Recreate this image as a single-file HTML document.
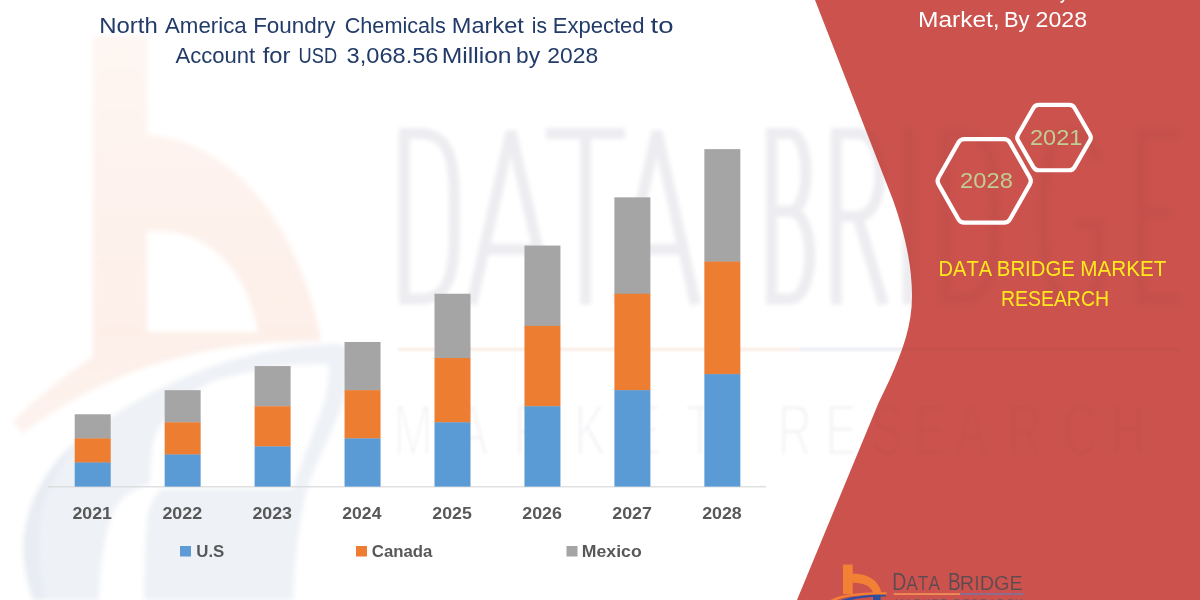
<!DOCTYPE html>
<html>
<head>
<meta charset="utf-8">
<title>North America Foundry Chemicals Market</title>
<style>
  html, body { margin: 0; padding: 0; background: #ffffff; }
  body { width: 1200px; height: 600px; overflow: hidden; position: relative; font-family: "Liberation Sans", sans-serif; }
  svg { position: absolute; left: 0; top: 0; display: block; font-kerning: none; }
</style>
</head>
<body>
<svg width="1200" height="600" viewBox="0 0 1200 600">
  <defs>
    <filter id="b3" x="-10%" y="-10%" width="120%" height="120%"><feGaussianBlur stdDeviation="2.5"/></filter>
    <filter id="b25" x="-10%" y="-10%" width="120%" height="120%"><feGaussianBlur stdDeviation="2.2"/></filter>
    <filter id="b2" x="-10%" y="-10%" width="120%" height="120%"><feGaussianBlur stdDeviation="1.6"/></filter>
    <filter id="b1" x="-10%" y="-10%" width="120%" height="120%"><feGaussianBlur stdDeviation="1.0"/></filter>
    <linearGradient id="og" x1="0" y1="36" x2="0" y2="430" gradientUnits="userSpaceOnUse"><stop offset="0" stop-color="#fef6f2"/><stop offset="0.75" stop-color="#fdefe8"/><stop offset="1" stop-color="#fdf3ee"/></linearGradient>
    <filter id="soft" x="-5%" y="-5%" width="110%" height="110%"><feGaussianBlur stdDeviation="0.4"/></filter>
  </defs>
  <rect x="0" y="0" width="1200" height="600" fill="#ffffff"/>
  <g id="wm">
  <g filter="url(#b3)">
    <!-- blue-grey ring region -->
    <path d="M33 600 C24 575 20 545 27 520 C32 500 38 488 47 474 C65 447 90 430 117 413 C150 392 180 378 210 367 C250 353 290 346 333 344 C342 344 350 346 350 352 C350 372 348 386 343 402 C336 424 322 450 310 480 C300 510 295 555 293 600 Z" fill="#eef1f6"/>
    <!-- darker outer crescent -->
    <path d="M33 600 C24 575 20 545 27 520 C32 500 38 488 47 474 C58 458 70 446 84 436 C66 455 50 480 42 510 C36 540 38 570 46 600 Z" fill="#e8ecf3"/>
    <!-- white interior above axis -->
    <path d="M150 489 C150 470 151 455 153 442 C158 425 170 410 185 400 C195 392 204 385 213 381 C240 373 268 368 293 365 L328 364 C330 380 326 400 318 420 C310 442 300 465 293 489 Z" fill="#ffffff"/>
    <!-- white leaf gap -->
    <path d="M99 600 C100 560 106 530 114 510 C124 494 138 487 150 484 L162 489 C152 498 148 508 147 520 C145 550 144 575 144 600 Z" fill="#ffffff"/>
    <!-- orange b + swoosh -->
    <path fill-rule="evenodd" d="M93 36 L147 36 L147 135 C215 138 292 200 320 335 L320 341 C240 341 130 352 22 434 L13 421 C40 395 68 373 93 357 Z M147 232 C200 226 246 262 258 332 L147 332 Z" fill="url(#og)"/>
  </g>
  <g filter="url(#b25)" fill="none" stroke="#ededf1" stroke-width="11" stroke-linejoin="miter" stroke-linecap="butt">
    <path d="M404.5 133.5 H419.5 C454.5 133.5 454.5 169.9 454.5 216.2 C454.5 262.6 454.5 299.0 419.5 299.0 H404.5 Z"/>
    <path d="M471.5 304.5 L511.0 131.5 L550.5 304.5 M485.7 249.3 H536.3"/>
    <path d="M546.0 133.5 H625.0 M585.5 133.5 V304.5"/>
    <path d="M618.5 304.5 L657.0 131.5 L695.5 304.5 M632.4 249.3 H681.6"/>
    <path d="M771.5 133.5 H789.5 C811.5 133.5 811.5 211.3 789.5 211.3 H771.5 M789.5 211.3 C816.5 211.3 816.5 299.0 789.5 299.0 H766.0 M771.5 128.0 V304.5"/>
    <path d="M836.5 304.5 V133.5 H857.6 C887.5 133.5 887.5 216.2 857.6 216.2 H836.5 M857.6 216.2 L883.5 304.5"/>
    <path d="M908.2 128.0 V304.5"/>
    <path d="M945.5 133.5 H960.2 C994.5 133.5 994.5 169.9 994.5 216.2 C994.5 262.6 994.5 299.0 960.2 299.0 H945.5 Z"/>
    <path d="M1096.5 160.0 C1091.9 140.1 1083.1 133.5 1071.0 133.5 C1050.1 133.5 1043.5 166.6 1043.5 216.2 C1043.5 265.9 1050.1 299.0 1071.0 299.0 C1084.8 299.0 1098.5 290.7 1098.5 279.1 V224.2 H1075.0"/>
    <path d="M1180.0 133.5 H1141.5 V299.0 H1180.0 M1141.5 212.2 H1170.5"/>
  </g>
  <g filter="url(#b1)">
    <rect x="398" y="347.5" width="401" height="3.5" fill="#fbeee6"/>
    <rect x="799" y="347.5" width="380" height="3.5" fill="#eceef5"/>
  </g>
  <g filter="url(#b2)" fill="#f3f3f6" stroke="#ffffff" stroke-width="2.5">
    <text transform="translate(413 455) scale(0.66 1)" font-size="72" text-anchor="middle">M</text>
    <text transform="translate(472 455) scale(0.66 1)" font-size="72" text-anchor="middle">A</text>
    <text transform="translate(531 455) scale(0.66 1)" font-size="72" text-anchor="middle">R</text>
    <text transform="translate(590 455) scale(0.66 1)" font-size="72" text-anchor="middle">K</text>
    <text transform="translate(645 455) scale(0.66 1)" font-size="72" text-anchor="middle">E</text>
    <text transform="translate(700 455) scale(0.66 1)" font-size="72" text-anchor="middle">T</text>
    <text transform="translate(795 455) scale(0.66 1)" font-size="72" text-anchor="middle">R</text>
    <text transform="translate(841 455) scale(0.66 1)" font-size="72" text-anchor="middle">E</text>
    <text transform="translate(887 455) scale(0.66 1)" font-size="72" text-anchor="middle">S</text>
    <text transform="translate(930 455) scale(0.66 1)" font-size="72" text-anchor="middle">E</text>
    <text transform="translate(971 455) scale(0.66 1)" font-size="72" text-anchor="middle">A</text>
    <text transform="translate(1025 455) scale(0.66 1)" font-size="72" text-anchor="middle">R</text>
    <text transform="translate(1080 455) scale(0.66 1)" font-size="72" text-anchor="middle">C</text>
    <text transform="translate(1128 455) scale(0.66 1)" font-size="72" text-anchor="middle">H</text>
  </g>
  </g>
  <clipPath id="redclip"><path d="M815 0 L893 200 C903 228 912 262 912 296 C912 325 903 350 889.5 380 L878.5 403 L797 600 L1200 600 L1200 0 Z"/></clipPath>
  <path id="red" d="M815 0 L893 200 C903 228 912 262 912 296 C912 325 903 350 889.5 380 L878.5 403 L797 600 L1200 600 L1200 0 Z" fill="#cb524d"/>
  <g clip-path="url(#redclip)" style="mix-blend-mode:multiply" opacity="0.4">
  <g>
  <g filter="url(#b3)">
    <!-- blue-grey ring region -->
    <path d="M33 600 C24 575 20 545 27 520 C32 500 38 488 47 474 C65 447 90 430 117 413 C150 392 180 378 210 367 C250 353 290 346 333 344 C342 344 350 346 350 352 C350 372 348 386 343 402 C336 424 322 450 310 480 C300 510 295 555 293 600 Z" fill="#eef1f6"/>
    <!-- darker outer crescent -->
    <path d="M33 600 C24 575 20 545 27 520 C32 500 38 488 47 474 C58 458 70 446 84 436 C66 455 50 480 42 510 C36 540 38 570 46 600 Z" fill="#e8ecf3"/>
    <!-- white interior above axis -->
    <path d="M150 489 C150 470 151 455 153 442 C158 425 170 410 185 400 C195 392 204 385 213 381 C240 373 268 368 293 365 L328 364 C330 380 326 400 318 420 C310 442 300 465 293 489 Z" fill="#ffffff"/>
    <!-- white leaf gap -->
    <path d="M99 600 C100 560 106 530 114 510 C124 494 138 487 150 484 L162 489 C152 498 148 508 147 520 C145 550 144 575 144 600 Z" fill="#ffffff"/>
    <!-- orange b + swoosh -->
    <path fill-rule="evenodd" d="M93 36 L147 36 L147 135 C215 138 292 200 320 335 L320 341 C240 341 130 352 22 434 L13 421 C40 395 68 373 93 357 Z M147 232 C200 226 246 262 258 332 L147 332 Z" fill="url(#og)"/>
  </g>
  <g filter="url(#b25)" fill="none" stroke="#ededf1" stroke-width="11" stroke-linejoin="miter" stroke-linecap="butt">
    <path d="M404.5 133.5 H419.5 C454.5 133.5 454.5 169.9 454.5 216.2 C454.5 262.6 454.5 299.0 419.5 299.0 H404.5 Z"/>
    <path d="M471.5 304.5 L511.0 131.5 L550.5 304.5 M485.7 249.3 H536.3"/>
    <path d="M546.0 133.5 H625.0 M585.5 133.5 V304.5"/>
    <path d="M618.5 304.5 L657.0 131.5 L695.5 304.5 M632.4 249.3 H681.6"/>
    <path d="M771.5 133.5 H789.5 C811.5 133.5 811.5 211.3 789.5 211.3 H771.5 M789.5 211.3 C816.5 211.3 816.5 299.0 789.5 299.0 H766.0 M771.5 128.0 V304.5"/>
    <path d="M836.5 304.5 V133.5 H857.6 C887.5 133.5 887.5 216.2 857.6 216.2 H836.5 M857.6 216.2 L883.5 304.5"/>
    <path d="M908.2 128.0 V304.5"/>
    <path d="M945.5 133.5 H960.2 C994.5 133.5 994.5 169.9 994.5 216.2 C994.5 262.6 994.5 299.0 960.2 299.0 H945.5 Z"/>
    <path d="M1096.5 160.0 C1091.9 140.1 1083.1 133.5 1071.0 133.5 C1050.1 133.5 1043.5 166.6 1043.5 216.2 C1043.5 265.9 1050.1 299.0 1071.0 299.0 C1084.8 299.0 1098.5 290.7 1098.5 279.1 V224.2 H1075.0"/>
    <path d="M1180.0 133.5 H1141.5 V299.0 H1180.0 M1141.5 212.2 H1170.5"/>
  </g>
  <g filter="url(#b1)">
    <rect x="398" y="347.5" width="401" height="3.5" fill="#fbeee6"/>
    <rect x="799" y="347.5" width="380" height="3.5" fill="#eceef5"/>
  </g>
  <g filter="url(#b2)" fill="#f3f3f6" stroke="#ffffff" stroke-width="2.5">
    <text transform="translate(413 455) scale(0.66 1)" font-size="72" text-anchor="middle">M</text>
    <text transform="translate(472 455) scale(0.66 1)" font-size="72" text-anchor="middle">A</text>
    <text transform="translate(531 455) scale(0.66 1)" font-size="72" text-anchor="middle">R</text>
    <text transform="translate(590 455) scale(0.66 1)" font-size="72" text-anchor="middle">K</text>
    <text transform="translate(645 455) scale(0.66 1)" font-size="72" text-anchor="middle">E</text>
    <text transform="translate(700 455) scale(0.66 1)" font-size="72" text-anchor="middle">T</text>
    <text transform="translate(795 455) scale(0.66 1)" font-size="72" text-anchor="middle">R</text>
    <text transform="translate(841 455) scale(0.66 1)" font-size="72" text-anchor="middle">E</text>
    <text transform="translate(887 455) scale(0.66 1)" font-size="72" text-anchor="middle">S</text>
    <text transform="translate(930 455) scale(0.66 1)" font-size="72" text-anchor="middle">E</text>
    <text transform="translate(971 455) scale(0.66 1)" font-size="72" text-anchor="middle">A</text>
    <text transform="translate(1025 455) scale(0.66 1)" font-size="72" text-anchor="middle">R</text>
    <text transform="translate(1080 455) scale(0.66 1)" font-size="72" text-anchor="middle">C</text>
    <text transform="translate(1128 455) scale(0.66 1)" font-size="72" text-anchor="middle">H</text>
  </g>
  </g>
  </g>
  <g fill="#213a68" filter="url(#soft)">
    <text transform="translate(99.29 32.70) scale(1.0450 1)" font-size="22.90" font-family="Liberation Sans">North</text>
    <text transform="translate(164.96 32.70) scale(0.9739 1)" font-size="22.90" font-family="Liberation Sans">America</text>
    <text transform="translate(253.16 32.70) scale(0.9807 1)" font-size="22.90" font-family="Liberation Sans">Foundry</text>
    <text transform="translate(344.65 32.70) scale(0.9461 1)" font-size="22.90" font-family="Liberation Sans">Chemicals</text>
    <text transform="translate(451.81 32.70) scale(1.0303 1)" font-size="22.90" font-family="Liberation Sans">Market</text>
    <text transform="translate(531.80 32.70) scale(0.9169 1)" font-size="22.90" font-family="Liberation Sans">is</text>
    <text transform="translate(552.69 32.70) scale(0.9634 1)" font-size="22.90" font-family="Liberation Sans">Expected</text>
    <text transform="translate(650.58 32.70) scale(1.2029 1)" font-size="22.90" font-family="Liberation Sans">to</text>
    <text transform="translate(175.46 62.90) scale(0.9633 1)" font-size="22.90" font-family="Liberation Sans">Account</text>
    <text transform="translate(262.66 62.90) scale(1.0377 1)" font-size="22.90" font-family="Liberation Sans">for</text>
    <text transform="translate(298.59 62.90) scale(0.7969 1)" font-size="22.90" font-family="Liberation Sans">USD</text>
    <text transform="translate(346.60 62.90) scale(1.0314 1)" font-size="22.90" font-family="Liberation Sans">3,068.56</text>
    <text transform="translate(441.73 62.90) scale(1.0767 1)" font-size="22.90" font-family="Liberation Sans">Million</text>
    <text transform="translate(516.03 62.90) scale(0.9927 1)" font-size="22.90" font-family="Liberation Sans">by</text>
    <text transform="translate(547.35 62.90) scale(0.9980 1)" font-size="22.90" font-family="Liberation Sans">2028</text>
  </g>
  <g id="bars">
    <rect x="48" y="486.2" width="718" height="1.2" fill="#d9d9d9"/>
    <rect x="74.70" y="414.29" width="36.00" height="24.41" fill="#a5a5a5"/>
    <rect x="74.70" y="438.39" width="36.00" height="24.41" fill="#ed7d31"/>
    <rect x="74.70" y="462.50" width="36.00" height="24.11" fill="#5b9bd5"/>
    <rect x="164.65" y="390.18" width="36.00" height="32.44" fill="#a5a5a5"/>
    <rect x="164.65" y="422.32" width="36.00" height="32.44" fill="#ed7d31"/>
    <rect x="164.65" y="454.46" width="36.00" height="32.14" fill="#5b9bd5"/>
    <rect x="254.60" y="366.08" width="36.00" height="40.47" fill="#a5a5a5"/>
    <rect x="254.60" y="406.25" width="36.00" height="40.47" fill="#ed7d31"/>
    <rect x="254.60" y="446.43" width="36.00" height="40.17" fill="#5b9bd5"/>
    <rect x="344.55" y="341.97" width="36.00" height="48.51" fill="#a5a5a5"/>
    <rect x="344.55" y="390.18" width="36.00" height="48.51" fill="#ed7d31"/>
    <rect x="344.55" y="438.39" width="36.00" height="48.21" fill="#5b9bd5"/>
    <rect x="434.50" y="293.76" width="36.00" height="64.58" fill="#a5a5a5"/>
    <rect x="434.50" y="358.04" width="36.00" height="64.58" fill="#ed7d31"/>
    <rect x="434.50" y="422.32" width="36.00" height="64.28" fill="#5b9bd5"/>
    <rect x="524.45" y="245.55" width="36.00" height="80.65" fill="#a5a5a5"/>
    <rect x="524.45" y="325.90" width="36.00" height="80.65" fill="#ed7d31"/>
    <rect x="524.45" y="406.25" width="36.00" height="80.35" fill="#5b9bd5"/>
    <rect x="614.40" y="197.34" width="36.00" height="96.72" fill="#a5a5a5"/>
    <rect x="614.40" y="293.76" width="36.00" height="96.72" fill="#ed7d31"/>
    <rect x="614.40" y="390.18" width="36.00" height="96.42" fill="#5b9bd5"/>
    <rect x="704.35" y="149.13" width="36.00" height="112.79" fill="#a5a5a5"/>
    <rect x="704.35" y="261.62" width="36.00" height="112.79" fill="#ed7d31"/>
    <rect x="704.35" y="374.11" width="36.00" height="112.49" fill="#5b9bd5"/>
  </g>
  <g fill="#595959" filter="url(#soft)">
    <text transform="translate(72.48 518.50) scale(1.0699 1)" font-size="16.60" font-weight="bold" font-family="Liberation Sans">2021</text>
    <text transform="translate(162.43 518.50) scale(1.0760 1)" font-size="16.60" font-weight="bold" font-family="Liberation Sans">2022</text>
    <text transform="translate(252.38 518.50) scale(1.0740 1)" font-size="16.60" font-weight="bold" font-family="Liberation Sans">2023</text>
    <text transform="translate(342.34 518.50) scale(1.0589 1)" font-size="16.60" font-weight="bold" font-family="Liberation Sans">2024</text>
    <text transform="translate(432.28 518.50) scale(1.0699 1)" font-size="16.60" font-weight="bold" font-family="Liberation Sans">2025</text>
    <text transform="translate(522.23 518.50) scale(1.0740 1)" font-size="16.60" font-weight="bold" font-family="Liberation Sans">2026</text>
    <text transform="translate(612.18 518.50) scale(1.0779 1)" font-size="16.60" font-weight="bold" font-family="Liberation Sans">2027</text>
    <text transform="translate(702.13 518.50) scale(1.0714 1)" font-size="16.60" font-weight="bold" font-family="Liberation Sans">2028</text>
  </g>
  <g fill="#595959" filter="url(#soft)">
    <rect x="180" y="546" width="11" height="10.5" fill="#5b9bd5"/>
    <text transform="translate(196.29 556.60) scale(1.0794 1)" font-size="15.60" font-weight="bold" font-family="Liberation Sans">U.S</text>
    <rect x="356" y="546" width="11" height="10.5" fill="#ed7d31"/>
    <text transform="translate(371.81 556.60) scale(1.0751 1)" font-size="15.60" font-weight="bold" font-family="Liberation Sans">Canada</text>
    <rect x="566.5" y="546" width="11" height="10.5" fill="#a5a5a5"/>
    <text transform="translate(581.82 556.60) scale(1.1321 1)" font-size="15.60" font-weight="bold" font-family="Liberation Sans">Mexico</text>
  </g>
  <g fill="#ffffff" filter="url(#soft)">
    <text transform="translate(917.99 26.70) scale(1.0893 1)" font-size="22.50" font-family="Liberation Sans">Market,</text>
    <text transform="translate(1004.00 26.70) scale(0.9726 1)" font-size="22.50" font-family="Liberation Sans">By</text>
    <text transform="translate(1035.54 26.70) scale(1.0283 1)" font-size="22.50" font-family="Liberation Sans">2028</text>
    <path d="M1064.6 -2 L1063 1.2 C1062.6 2 1061.8 2.2 1061 2" stroke="#ffffff" stroke-width="1.7" fill="none" stroke-linecap="round"/>
  </g>
  <g fill="none" stroke="#ffffff" stroke-width="4.2" stroke-linejoin="round" filter="url(#soft)">
    <path d="M938.58 184.38 Q936.60 180.90 938.58 177.42 L958.42 142.63 Q960.40 139.15 964.40 139.15 L1004.00 139.15 Q1008.00 139.15 1009.98 142.63 L1029.82 177.42 Q1031.80 180.90 1029.82 184.38 L1009.98 219.17 Q1008.00 222.65 1004.00 222.65 L964.40 222.65 Q960.40 222.65 958.42 219.17 Z"/>
    <path d="M1018.15 140.67 Q1016.35 137.55 1018.15 134.43 L1033.40 107.97 Q1035.20 104.85 1038.80 104.85 L1069.20 104.85 Q1072.80 104.85 1074.60 107.97 L1089.85 134.43 Q1091.65 137.55 1089.85 140.67 L1074.60 167.13 Q1072.80 170.25 1069.20 170.25 L1038.80 170.25 Q1035.20 170.25 1033.40 167.13 Z"/>
  </g>
  <g fill="#c0cd93" filter="url(#soft)">
    <text transform="translate(1030.01 145.30) scale(1.0293 1)" font-size="22.90" font-family="Liberation Sans">2021</text>
    <text transform="translate(960.11 188.20) scale(1.0349 1)" font-size="22.90" font-family="Liberation Sans">2028</text>
  </g>
  <g fill="#ffea1c" filter="url(#soft)">
    <text transform="translate(938.55 275.75) scale(0.8953 1)" font-size="22.40" font-family="Liberation Sans">DATA</text>
    <text transform="translate(996.83 275.75) scale(0.9087 1)" font-size="22.40" font-family="Liberation Sans">BRIDGE</text>
    <text transform="translate(1080.30 275.75) scale(0.9232 1)" font-size="22.40" font-family="Liberation Sans">MARKET</text>
    <text transform="translate(1000.90 305.50) scale(0.8692 1)" font-size="22.40" font-family="Liberation Sans">RESEARCH</text>
  </g>
  <g id="logo" filter="url(#soft)">
    <path d="M843 564.4 L852.75 564.4 L852.75 573.75 C868 573.5 879.5 581 881.5 593.5 L873.2 593.5 C871.5 586.5 864 582.6 852.75 582.75 L852.75 594 L843 594 Z" fill="#f28035"/>
    <path d="M873 594.5 L880.6 594.2 L880.6 600 L873 600 Z" fill="#2d4fa0"/>
    <path d="M841 600 C852 596.5 868 594.8 886 594.6 L886 596.6 C872 596.6 860 598 851 600 Z" fill="#2d4fa0"/>
    <path d="M830.5 600 C838 595.5 856 591.5 886.5 592.3 L886.5 594.6 C862 594 846 596.5 836.5 600 Z" fill="#f28035"/>
    <text transform="translate(892.31 589.50) scale(0.8193 1)" font-size="23.70" font-family="Liberation Sans" fill="#5a4b52" stroke="#cb524d" stroke-width="0.2">D</text>
    <text transform="translate(906.27 589.50) scale(0.8308 1)" font-size="20.90" font-family="Liberation Sans" fill="#5a4b52" stroke="#cb524d" stroke-width="0.2">ATA</text>
    <text transform="translate(948.03 589.50) scale(0.8086 1)" font-size="23.70" font-family="Liberation Sans" fill="#5a4b52" stroke="#cb524d" stroke-width="0.2">B</text>
    <text transform="translate(959.77 589.50) scale(0.9516 1)" font-size="20.90" font-family="Liberation Sans" fill="#5a4b52" stroke="#cb524d" stroke-width="0.2">RIDGE</text>
    <rect x="893.7" y="593.1" width="66.3" height="1.9" fill="#ee8a55"/>
    <rect x="960" y="593.1" width="63.8" height="1.9" fill="#8a6c95"/>
    <text x="895" y="606.8" font-size="10" fill="#6b5a66" textLength="128" lengthAdjust="spacing">MARKET RESEARCH</text>
  </g>
</svg>
</body>
</html>
